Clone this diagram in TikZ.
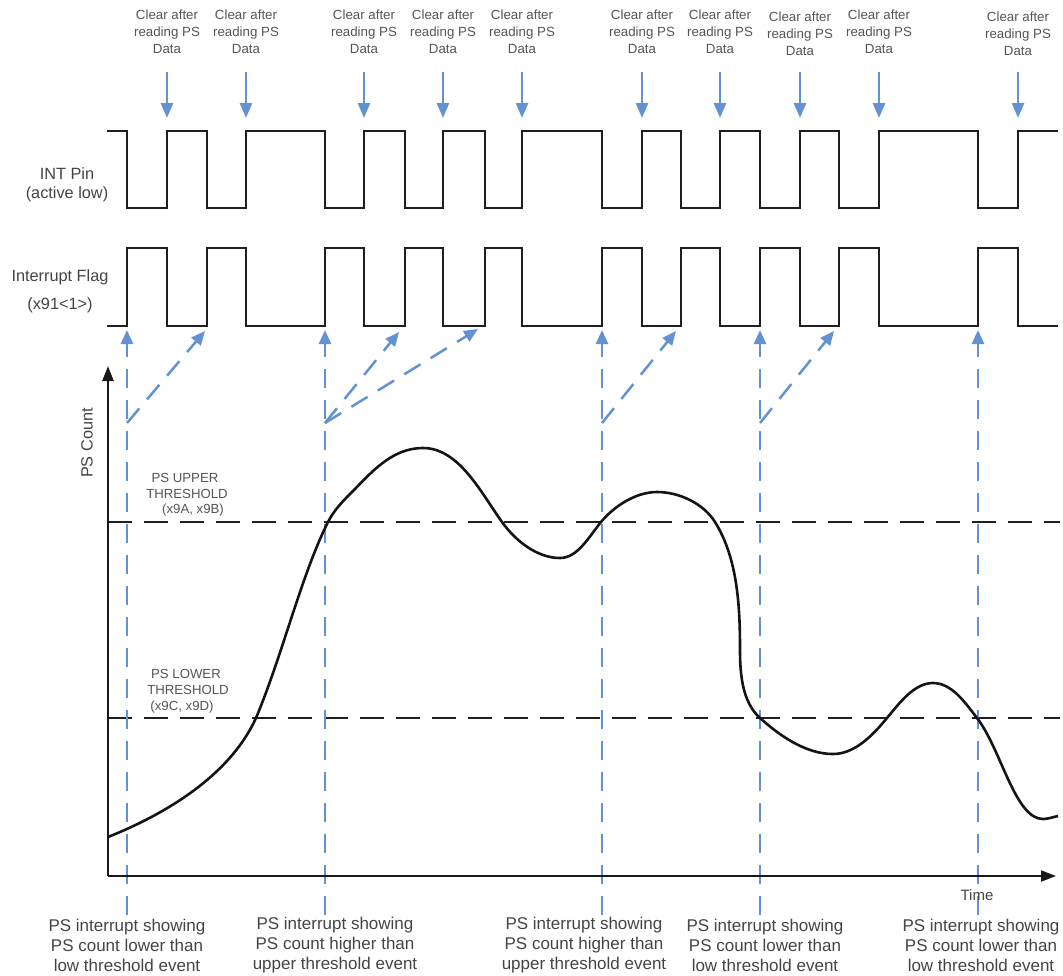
\documentclass[tikz,border=0pt]{standalone}
\usepackage{fontspec}
\setmainfont{Liberation Sans}
\usetikzlibrary{arrows.meta}
\definecolor{arrblue}{RGB}{98,146,212}
\definecolor{txtgray}{RGB}{68,68,68}
\definecolor{lightgray}{RGB}{85,85,85}
\tikzset{
  wave/.style={line width=2.6pt, black!88, line join=miter},
  clrarrow/.style={line width=2.6pt, arrblue, -{Triangle[length=15pt,width=12pt]}},
  evtarrow/.style={line width=2.5pt, arrblue, dash pattern=on 19pt off 12pt, -{Triangle[length=14pt,width=12pt]}},
  thresh/.style={line width=2.5pt, black!88, dash pattern=on 24pt off 12pt},
  axisline/.style={line width=2.4pt, black!90, -{Triangle[length=15pt,width=11pt]}},
  curveline/.style={line width=2.6pt, black!92},
  toplab/.style={align=center, font=\fontsize{13.3}{17}\selectfont, text=lightgray, inner sep=0pt},
  sidelab/.style={align=center, font=\fontsize{16.3}{19}\selectfont, text=txtgray, inner sep=0pt},
  thlab/.style={font=\fontsize{13.2}{15}\selectfont, text=lightgray, inner sep=0pt},
  botlab/.style={align=center, font=\fontsize{17}{20}\selectfont, text=txtgray, inner sep=0pt},
}
\begin{document}
\begin{tikzpicture}[x=1pt,y=-1pt]
\useasboundingbox (0,0) rectangle (1063,975);

% INT pin waveform
\draw[wave] (107,131) -- (127,131) -- (127,208) -- (167,208) -- (167,131) -- (207,131) -- (207,208) -- (246,208) -- (246,131) -- (325,131) -- (325,208) -- (364,208) -- (364,131) -- (405,131) -- (405,208) -- (443,208) -- (443,131) -- (485,131) -- (485,208) -- (522,208) -- (522,131) -- (602,131) -- (602,208) -- (642,208) -- (642,131) -- (681,131) -- (681,208) -- (720,208) -- (720,131) -- (760,131) -- (760,208) -- (800,208) -- (800,131) -- (839,131) -- (839,208) -- (879,208) -- (879,131) -- (978,131) -- (978,208) -- (1018,208) -- (1018,131) -- (1058,131);

% Interrupt flag waveform
\draw[wave] (107,326) -- (127,326) -- (127,248) -- (167,248) -- (167,326) -- (207,326) -- (207,248) -- (246,248) -- (246,326) -- (325,326) -- (325,248) -- (364,248) -- (364,326) -- (405,326) -- (405,248) -- (443,248) -- (443,326) -- (485,326) -- (485,248) -- (522,248) -- (522,326) -- (602,326) -- (602,248) -- (642,248) -- (642,326) -- (681,326) -- (681,248) -- (720,248) -- (720,326) -- (760,326) -- (760,248) -- (800,248) -- (800,326) -- (839,326) -- (839,248) -- (879,248) -- (879,326) -- (978,326) -- (978,248) -- (1018,248) -- (1018,326) -- (1058,326);

% Clear-after arrows and labels
\foreach \x/\dy [count=\i] in {167/0,246/0,364/0,443/0,522/0,642/0,720/0,800/2,879/0,1018/2}{
  \coordinate (ca\i) at (\x,72);
  \coordinate (cb\i) at (\x,118);
  \draw[clrarrow] (ca\i) -- (cb\i);
  \node[toplab] (cl\i) at (\x,32+\dy) {Clear after\\reading PS\\Data};
}

% thresholds
\coordinate (ut0) at (108,522); \coordinate (ut1) at (1060,522);
\coordinate (lt0) at (108,718); \coordinate (lt1) at (1060,718);
\draw[thresh] (ut0) -- (ut1);
\draw[thresh] (lt0) -- (lt1);

% event verticals
\foreach \x [count=\i] in {127,325,602,760,978}{
  \coordinate (eb\i) at (\x,915);
  \coordinate (et\i) at (\x,330);
  \coordinate (ek\i) at (\x,423);
  \draw[evtarrow] (eb\i) -- (et\i);
}
% diagonal arrows
\coordinate (d1) at (205,331);
\coordinate (d2) at (399,332);
\coordinate (d3) at (478,329);
\coordinate (d4) at (676,331);
\coordinate (d5) at (834,331);
\draw[evtarrow] (ek1) -- (d1);
\draw[evtarrow] (ek2) -- (d2);
\draw[evtarrow] (ek2) -- (d3);
\draw[evtarrow] (ek3) -- (d4);
\draw[evtarrow] (ek4) -- (d5);

% axes
\coordinate (o) at (108,876);
\coordinate (ytop) at (108,366);
\coordinate (xend) at (1056,876);
\draw[axisline] (o) -- (ytop);
\draw[axisline, line width=2pt] (o) -- (xend);

% PS count curve
\draw[curveline] (108,837)
  .. controls (166.5,813.6) and (229.9,775.3) .. (256,718)
  .. controls (283,653.4) and (301.2,575.4) .. (328,522)
  .. controls (333.4,511.3) and (341.5,502.5) .. (350,494)
  .. controls (370.5,473.5) and (391,448) .. (423,448)
  .. controls (459,448) and (481,492.7) .. (502,522)
  .. controls (515.4,540.7) and (537,558) .. (560,558)
  .. controls (578,558) and (589.5,535.8) .. (601,522)
  .. controls (614.4,505.9) and (636,492) .. (657,492)
  .. controls (679,492) and (703.3,503.3) .. (715,522)
  .. controls (737.8,558.5) and (740,607) .. (740,650)
  .. controls (740,674) and (742.2,702) .. (760,718)
  .. controls (780,736) and (806,754) .. (833,754)
  .. controls (855,754) and (873,734.9) .. (887,718)
  .. controls (899.2,703.4) and (914,683) .. (933,683)
  .. controls (952,683) and (965.4,703) .. (977,718)
  .. controls (1001.4,749.7) and (1015,819) .. (1043,819)
  .. controls (1048,819) and (1053,817) .. (1058,816);

% labels
\node[sidelab] (intpin) at (67,184.5) {INT Pin\\(active low)};
\node[sidelab] (iflag) at (60,277) {Interrupt Flag};
\node[sidelab] (iflagreg) at (60,305) {(x91<1>)};
\node[sidelab, rotate=90] (pscount) at (87,443) {PS Count};

\node[thlab] (ul1) at (185,478) {PS UPPER};
\node[thlab] (ul2) at (187,494) {THRESHOLD};
\node[thlab] (ul3) at (193,510) {(x9A, x9B)};
\node[thlab] (ll1) at (186,674) {PS LOWER};
\node[thlab] (ll2) at (188,690) {THRESHOLD};
\node[thlab] (ll3) at (182,707) {(x9C, x9D)};

\node[sidelab, font=\fontsize{15}{18}\selectfont] (time) at (977,895) {Time};

\node[botlab] (b1) at (127,945) {PS interrupt showing\\PS count lower than\\low threshold event};
\node[botlab] (b2) at (335,945) {PS interrupt showing\\PS count higher than\\upper threshold event};
\node[botlab] (b3) at (584,945) {PS interrupt showing\\PS count higher than\\upper threshold event};
\node[botlab] (b4) at (765,945) {PS interrupt showing\\PS count lower than\\low threshold event};
\node[botlab] (b5) at (981,945) {PS interrupt showing\\PS count lower than\\low threshold event};
\end{tikzpicture}
\end{document}
